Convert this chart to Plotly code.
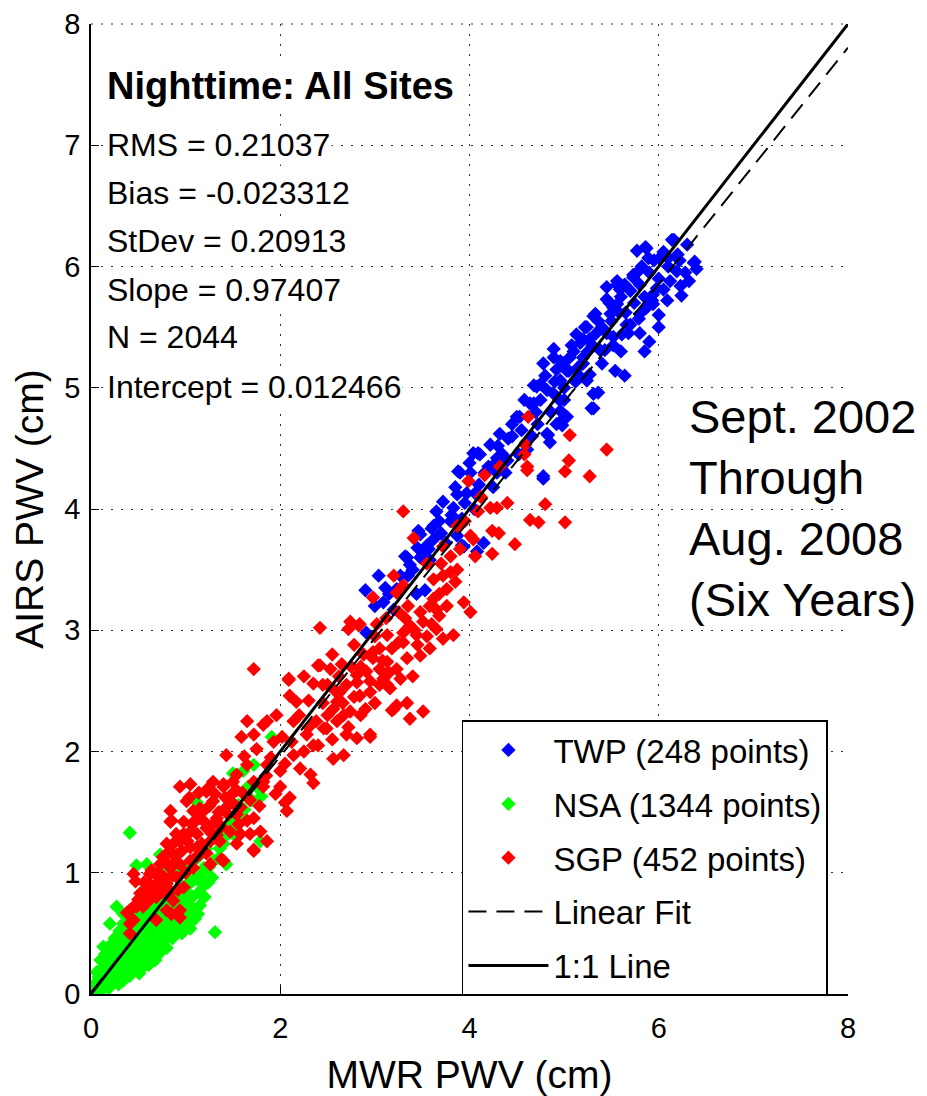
import plotly.graph_objects as go

# AIRS vs MWR precipitable water vapour, nighttime, all sites

twp_pts = [
    (5.77, 6.13), (5.86, 6.16), (5.89, 6.07), (6.14, 6.22), (6.30, 6.18), (6.38, 6.04), (6.40, 5.98),
    (6.19, 5.96), (6.23, 5.84), (6.24, 5.76), (6.09, 5.72), (6.05, 5.81), (5.77, 5.95), (5.73, 5.91),
    (5.56, 5.85), (5.59, 5.81), (5.45, 5.73), (5.56, 5.69), (5.33, 5.61), (5.36, 5.55), (5.49, 5.61),
    (5.22, 5.50), (5.13, 5.44), (5.17, 5.37), (5.27, 5.40), (4.89, 5.32), (4.89, 5.25), (4.99, 5.20),
    (5.06, 5.25), (5.15, 5.17), (4.75, 5.03), (4.68, 5.02), (4.96, 5.06), (5.05, 5.14), (5.54, 5.14),
    (5.64, 5.10), (5.36, 4.96), (5.24, 5.06), (5.79, 5.57), (5.70, 5.52), (5.87, 5.66), (5.93, 5.72),
    (5.61, 5.44), (5.43, 5.31), (5.94, 5.77), (6.01, 6.07), (6.10, 6.07),
    (4.71, 5.01), (4.89, 4.95), (5.29, 4.83), (4.96, 4.72), (4.53, 4.76), (4.64, 4.87), (4.82, 4.62),
    (4.85, 4.55), (4.61, 4.49), (4.32, 4.62), (4.41, 4.58), (4.22, 4.53), (4.04, 4.46), (4.11, 4.45),
    (4.29, 4.42), (3.88, 4.31), (4.01, 4.30), (4.29, 4.30), (3.87, 4.12), (3.97, 4.13), (3.72, 4.06),
    (3.65, 3.98), (3.81, 3.95), (4.78, 4.25), (3.60, 3.84), (3.48, 3.79), (3.62, 3.75), (3.87, 3.78),
    (3.32, 3.61), (3.48, 3.60), (3.37, 3.54), (3.27, 3.45), (3.94, 3.69), (4.08, 3.65), (4.15, 3.72),
    (4.25, 4.36), (3.46, 3.82), (3.57, 3.67), (3.34, 3.60), (3.50, 3.61), (3.04, 3.45), (2.90, 3.33),
    (3.11, 3.35), (3.23, 3.34), (3.44, 3.30), (3.53, 3.33), (3.09, 3.23), (3.20, 3.17), (2.91, 2.98),
    (3.92, 3.70), (5.31, 4.83), (4.98, 4.73), (4.98, 4.69), (4.83, 4.61), (4.50, 4.76), (4.68, 4.87),
    (4.09, 4.46), (3.90, 4.30), (4.06, 4.13), (3.83, 4.01), (3.62, 3.86), (4.82, 4.98), (4.78, 5.20),
    (4.96, 5.22), (5.03, 5.14), (5.17, 5.09), (5.31, 4.95), (5.24, 5.50), (5.31, 5.59), (5.52, 5.66),
    (5.45, 5.83), (5.56, 5.88), (5.73, 5.93), (5.87, 6.15), (6.16, 6.22), (6.37, 6.03), (5.94, 5.69),
    (5.80, 5.61), (5.66, 5.52), (5.52, 5.42), (5.38, 5.31), (5.27, 5.11), (4.96, 4.81), (4.92, 4.70),
    (5.03, 4.76), (4.78, 4.27), (3.70, 3.80), (3.80, 3.90), (3.95, 4.05), (4.10, 4.20), (4.20, 4.35),
    (4.35, 4.45), (4.45, 4.60), (4.55, 4.65), (4.70, 4.80), (4.75, 4.90), (4.90, 5.05), (5.00, 5.00),
    (5.10, 5.30), (5.20, 5.25), (5.30, 5.35), (5.40, 5.50), (5.50, 5.55), (5.60, 5.75), (5.70, 5.80),
    (5.80, 5.85), (5.90, 5.95), (6.00, 5.90), (6.10, 6.00), (6.20, 6.10), (5.65, 5.62), (5.45, 5.45),
    (5.20, 5.20), (4.95, 4.90), (4.60, 4.55), (4.40, 4.40), (3.55, 3.70), (3.40, 3.50), (3.15, 3.30),
    (3.00, 3.20), (5.60, 5.30), (5.80, 5.45), (6.00, 5.60), (5.90, 5.38),
    (3.35, 3.45), (3.45, 3.68), (3.58, 3.58), (3.68, 3.90), (3.75, 3.72), (3.85, 4.18), (3.92, 3.92),
    (4.00, 4.38), (4.05, 4.00), (4.16, 4.30), (4.25, 4.18), (4.30, 4.52), (4.38, 4.30), (4.45, 4.70),
    (4.52, 4.45), (4.58, 4.90), (4.66, 4.60), (4.72, 4.70), (4.80, 5.10), (4.86, 4.80), (4.92, 5.15),
    (5.00, 4.90), (5.08, 5.35), (5.12, 5.05), (5.20, 5.40), (5.25, 5.30), (5.34, 5.45), (5.40, 5.20),
    (5.48, 5.70), (5.52, 5.35), (5.58, 5.62), (5.64, 5.85), (5.68, 5.45), (5.74, 5.70), (5.82, 6.00),
    (5.85, 5.75), (5.95, 6.05), (5.98, 5.82), (6.05, 6.12), (6.12, 5.88), (6.22, 6.05), (6.28, 5.95),
    (6.32, 5.88), (6.00, 5.50), (5.85, 5.30),
]

nsa_pts = [
    (0.03, 0.05), (0.05, 0.02), (0.06, 0.10), (0.08, 0.05), (0.08, 0.14), (0.10, 0.08), (0.10, 0.20),
    (0.12, 0.04), (0.12, 0.13), (0.13, 0.26), (0.14, 0.09), (0.15, 0.18), (0.15, 0.33), (0.16, 0.06),
    (0.17, 0.22), (0.18, 0.12), (0.19, 0.29), (0.20, 0.16), (0.20, 0.40), (0.21, 0.08), (0.22, 0.24),
    (0.23, 0.34), (0.24, 0.14), (0.25, 0.20), (0.25, 0.46), (0.26, 0.29), (0.27, 0.10), (0.28, 0.38),
    (0.29, 0.18), (0.30, 0.26), (0.30, 0.52), (0.31, 0.44), (0.32, 0.14), (0.33, 0.32), (0.34, 0.22),
    (0.34, 0.58), (0.35, 0.40), (0.36, 0.28), (0.37, 0.16), (0.38, 0.48), (0.39, 0.35), (0.40, 0.24),
    (0.40, 0.62), (0.41, 0.42), (0.42, 0.30), (0.43, 0.18), (0.44, 0.52), (0.45, 0.38), (0.46, 0.26),
    (0.47, 0.70), (0.48, 0.46), (0.49, 0.34), (0.50, 0.22), (0.51, 0.58), (0.52, 0.42), (0.53, 0.30),
    (0.54, 0.64), (0.55, 0.50), (0.55, 0.22), (0.56, 0.36), (0.57, 0.76), (0.58, 0.44), (0.59, 0.28),
    (0.60, 0.56), (0.61, 0.40), (0.62, 0.68), (0.63, 0.33), (0.64, 0.50), (0.65, 0.82), (0.66, 0.44),
    (0.67, 0.60), (0.68, 0.36), (0.69, 0.72), (0.70, 0.52), (0.71, 0.42), (0.72, 0.64), (0.73, 0.88),
    (0.74, 0.48), (0.75, 0.58), (0.76, 0.40), (0.77, 0.76), (0.78, 0.54), (0.79, 0.66), (0.80, 0.46),
    (0.82, 0.94), (0.82, 0.60), (0.84, 0.50), (0.85, 0.72), (0.86, 0.56), (0.88, 0.82), (0.90, 0.64),
    (0.91, 0.52), (0.92, 1.00), (0.94, 0.70), (0.95, 0.58), (0.97, 0.88), (0.98, 0.76), (1.00, 0.66),
    (1.02, 1.06), (1.04, 0.82), (1.06, 0.72), (1.08, 0.94), (1.10, 0.62), (1.12, 1.12), (1.14, 0.84),
    (1.15, 0.73), (1.18, 1.00), (1.20, 0.90), (1.22, 1.20), (1.25, 1.05), (1.28, 0.96), (1.31, 0.51),
    (1.32, 1.28), (1.35, 1.12), (1.40, 1.24), (1.43, 1.07), (1.45, 1.36), (1.50, 1.32), (1.50, 1.82),
    (1.52, 1.34), (1.55, 1.46), (1.61, 1.84), (1.62, 1.52), (1.66, 1.71), (1.70, 1.60), (1.72, 1.89),
    (1.76, 1.70), (1.79, 1.26), (1.80, 1.63), (1.91, 2.12), (1.12, 1.58), (0.41, 1.33), (0.48, 1.06),
    (0.59, 1.07), (0.27, 0.72), (0.34, 0.66), (0.20, 0.58), (0.13, 0.39), (1.05, 0.54), (0.94, 0.52),
    (0.69, 0.33), (0.76, 0.45), (1.01, 0.55), (1.05, 0.72), (1.19, 1.04), (0.80, 1.04), (0.73, 1.15),
    (0.55, 0.85), (1.05, 0.93), (0.94, 1.02), (0.34, 0.11), (0.06, 0.18), (0.10, 0.28),
    (0.02, 0.01), (0.04, 0.08), (0.07, 0.03), (0.09, 0.11), (0.11, 0.16), (0.13, 0.07), (0.14, 0.21),
    (0.16, 0.12), (0.18, 0.26), (0.19, 0.05), (0.21, 0.19), (0.22, 0.31), (0.23, 0.11), (0.26, 0.17),
    (0.27, 0.36), (0.28, 0.24), (0.29, 0.08), (0.31, 0.20), (0.32, 0.41), (0.33, 0.28), (0.35, 0.12),
    (0.36, 0.34), (0.37, 0.52), (0.38, 0.21), (0.39, 0.44), (0.41, 0.15), (0.42, 0.37), (0.43, 0.56),
    (0.44, 0.26), (0.45, 0.47), (0.47, 0.20), (0.47, 0.40), (0.48, 0.60), (0.49, 0.29), (0.50, 0.50),
    (0.51, 0.17), (0.52, 0.36), (0.53, 0.66), (0.54, 0.26), (0.56, 0.44), (0.57, 0.56), (0.58, 0.30),
    (0.59, 0.70), (0.60, 0.38), (0.61, 0.24), (0.62, 0.50), (0.63, 0.62), (0.65, 0.30), (0.65, 0.42),
    (0.66, 0.74), (0.67, 0.52), (0.68, 0.28), (0.70, 0.62), (0.70, 0.40), (0.72, 0.50), (0.73, 0.34),
    (0.74, 0.70), (0.76, 0.56), (0.77, 0.44), (0.78, 0.64), (0.80, 0.38), (0.81, 0.74), (0.83, 0.54),
    (0.84, 0.66), (0.86, 0.46), (0.87, 0.80), (0.89, 0.58), (0.90, 0.70), (0.93, 0.62), (0.96, 0.50),
    (0.97, 0.80), (1.00, 0.72), (1.02, 0.60), (1.03, 0.90), (1.07, 0.80), (1.10, 0.95), (1.13, 0.66),
    (1.16, 0.92), (1.20, 0.80), (1.24, 0.92), (1.30, 1.10), (1.36, 1.20), (1.42, 1.30), (1.48, 1.42),
    (1.56, 1.56), (1.65, 1.62),
]

sgp_pts = [
    (2.42, 3.02), (2.72, 3.01), (2.83, 3.04), (1.72, 2.68), (2.09, 2.59), (2.10, 2.46), (2.42, 2.71),
    (2.35, 2.56), (2.60, 2.41), (2.70, 2.55), (2.81, 2.63), (2.98, 2.82), (3.05, 2.68), (3.13, 2.55),
    (3.20, 2.35), (2.81, 2.11), (2.95, 2.12), (2.56, 1.94), (2.67, 1.97), (2.70, 2.14), (2.49, 2.19),
    (2.35, 2.05), (2.14, 1.97), (2.21, 1.86), (2.32, 1.81), (2.35, 1.74), (2.10, 1.62), (2.07, 1.51),
    (1.86, 1.26), (1.72, 1.19), (1.72, 1.45), (1.54, 1.24), (1.93, 2.08), (1.96, 2.30), (1.82, 2.22),
    (1.65, 2.25), (1.59, 2.12), (1.72, 2.14), (1.43, 1.97), (1.65, 1.89), (1.54, 1.81), (1.29, 1.75),
    (1.40, 1.73), (0.94, 1.71), (1.05, 1.73), (1.22, 1.67), (0.84, 1.51), (0.84, 1.42), (1.08, 1.51),
    (1.15, 1.45), (1.22, 1.37), (1.05, 1.34), (0.94, 1.26), (0.76, 1.13), (0.73, 1.07), (0.87, 1.15),
    (0.94, 1.07), (1.05, 1.10), (1.12, 1.21), (1.26, 1.26), (0.73, 0.93), (0.66, 0.88), (0.59, 0.83),
    (0.48, 0.72), (0.41, 0.69), (0.45, 0.61), (0.80, 0.88), (0.87, 0.77), (0.94, 0.69), (0.80, 0.69),
    (0.69, 0.61), (0.98, 0.88), (0.91, 0.96), (0.84, 1.04), (0.62, 0.99), (0.52, 0.83), (1.29, 1.59),
    (1.43, 1.54), (1.33, 1.45), (1.47, 1.34), (1.58, 1.32), (1.54, 1.48), (2.00, 1.84), (1.86, 1.89),
    (1.82, 1.71), (1.72, 1.75), (1.49, 1.65), (1.15, 1.53), (1.01, 1.59), (1.33, 1.31), (0.80, 1.24),
    (1.24, 1.70), (1.40, 1.71), (0.85, 1.43), (1.19, 1.51), (1.29, 1.40), (1.10, 1.43), (0.98, 1.32),
    (0.87, 1.24), (0.91, 1.15), (1.05, 1.21), (1.15, 1.15), (1.26, 1.07), (1.08, 1.04), (1.40, 1.10),
    (0.45, 0.99), (0.47, 0.93), (0.69, 0.98), (0.62, 0.91), (0.80, 0.91), (0.55, 0.83), (0.69, 0.80),
    (0.45, 0.72), (0.38, 0.67), (0.55, 0.72), (0.41, 0.58), (0.41, 0.50), (0.85, 0.66), (0.94, 0.63),
    (1.65, 1.43), (1.68, 1.32), (1.72, 1.18), (1.79, 1.34), (1.58, 1.54), (1.47, 1.59), (1.54, 1.68),
    (1.82, 1.75), (2.00, 1.71), (2.05, 1.58), (1.36, 1.26), (1.38, 1.11),
    (0.50, 0.78), (0.56, 0.92), (0.60, 0.76), (0.64, 1.02), (0.66, 0.82), (0.70, 0.90), (0.72, 1.00),
    (0.75, 0.84), (0.78, 1.10), (0.78, 0.96), (0.82, 0.82), (0.83, 1.18), (0.86, 0.98), (0.89, 1.08),
    (0.90, 1.32), (0.92, 0.86), (0.96, 1.18), (0.98, 1.42), (1.00, 1.00), (1.02, 1.26), (1.04, 1.62),
    (1.07, 1.40), (1.10, 1.12), (1.12, 1.32), (1.14, 1.66), (1.17, 1.24), (1.20, 1.42), (1.22, 1.16),
    (1.25, 1.55), (1.28, 1.32), (1.31, 1.65), (1.35, 1.50), (1.38, 1.38), (1.42, 1.62), (1.45, 1.48),
    (1.50, 1.75), (1.52, 1.56), (1.56, 1.40), (1.60, 1.66), (1.62, 1.96), (1.68, 1.60), (1.75, 2.02),
    (1.78, 1.55), (1.85, 1.80), (1.90, 1.95), (1.95, 1.65), (2.02, 2.12), (2.05, 1.90), (2.12, 2.08),
    (2.20, 2.30), (2.25, 2.00), (2.30, 2.42), (2.38, 2.25), (2.45, 2.40), (2.50, 2.55), (2.55, 2.10),
    (2.62, 2.62), (2.66, 2.40), (2.75, 2.70), (2.78, 2.45), (2.88, 2.80), (2.90, 2.35), (3.00, 2.95),
    (3.05, 2.55), (3.12, 3.10), (3.18, 2.85), (3.25, 3.15), (3.35, 3.20), (3.42, 3.00), (3.55, 3.55),
    (3.60, 3.05), (3.68, 3.30), (3.85, 3.40), (3.95, 3.90), (4.12, 4.10), (4.40, 4.05),
    (4.62, 4.76), (5.06, 4.61), (5.45, 4.49), (5.05, 4.40), (5.01, 4.31), (5.27, 4.27), (4.61, 4.32),
    (4.59, 4.53), (4.58, 4.45), (4.32, 4.35), (4.16, 4.28), (3.99, 4.23), (4.80, 4.04), (4.64, 3.91),
    (4.73, 3.89), (5.01, 3.89), (4.22, 4.01), (4.29, 4.01), (4.09, 3.98), (4.24, 3.82), (4.31, 3.80),
    (4.48, 3.71), (4.04, 3.75), (3.90, 3.67), (4.24, 3.63), (4.06, 3.61), (3.30, 3.98), (4.61, 4.35),
    (3.41, 3.76), (3.87, 3.86), (4.01, 3.78), (3.72, 3.69), (3.80, 3.61), (3.87, 3.50), (3.72, 3.45),
    (3.62, 3.42), (3.76, 3.34), (3.62, 3.26), (3.65, 3.17), (3.76, 3.20), (3.94, 3.23), (4.01, 3.15),
    (3.20, 3.45), (3.30, 3.37), (3.23, 3.31), (2.98, 3.27), (3.48, 3.15), (3.51, 3.07), (3.37, 3.04),
    (3.30, 2.98), (3.44, 2.96), (3.65, 3.01), (3.72, 2.93), (3.83, 2.96), (3.58, 2.85), (3.48, 2.79),
    (3.34, 2.77), (3.30, 2.90), (3.13, 2.96), (3.05, 2.85), (2.98, 2.77), (3.13, 2.74), (3.23, 2.68),
    (2.91, 2.66), (2.81, 2.57), (3.09, 2.60), (3.27, 2.60), (2.84, 2.46), (2.95, 2.49), (3.16, 2.52),
    (3.23, 2.38), (3.34, 2.40), (3.51, 2.33), (3.37, 2.27), (3.18, 2.34), (2.74, 2.33), (2.74, 3.07),
    (2.84, 3.05), (2.40, 2.71), (2.53, 2.68), (2.09, 2.60), (2.63, 2.49), (2.56, 2.35), (2.67, 2.30),
    (2.60, 2.25), (2.46, 2.19), (2.28, 2.14), (2.17, 2.41), (2.14, 2.25), (1.86, 2.25), (2.95, 2.14),
    (2.45, 2.55), (2.55, 2.80), (2.65, 2.72), (2.78, 2.88), (2.85, 2.70), (2.95, 2.58), (3.02, 3.05),
    (3.08, 2.75), (3.15, 2.65), (3.25, 2.90), (3.32, 3.10), (3.40, 2.62), (3.45, 2.88), (3.55, 2.95),
    (3.58, 3.20), (3.68, 3.12), (3.70, 3.55), (3.80, 3.48), (2.25, 2.62), (2.30, 2.20), (2.40, 2.05),
    (2.50, 2.30), (2.58, 2.50), (2.72, 2.20), (2.85, 2.30), (3.00, 2.40),
]

# fit statistics printed on the chart
rms = 0.21037
bias = -0.023312
stdev = 0.20913
slope = 0.97407
n_points = 2044
intercept = 0.012466

line_x = [0, 8]
fit_y = [intercept + slope * v for v in line_x]
one_to_one_y = [0, 8]

FONT = "Liberation Sans, Arial, Helvetica, sans-serif"


def scatter(pts, name, color):
    return go.Scatter(
        x=[p[0] for p in pts], y=[p[1] for p in pts],
        mode="markers", name=name, legendgroup=name,
        marker=dict(symbol="diamond", size=11, color=color, line=dict(width=0)),
    )


fig = go.Figure()
fig.add_trace(scatter(twp_pts, "TWP (248 points)", "#0000ff"))
fig.add_trace(scatter(nsa_pts, "NSA (1344 points)", "#00ff00"))
fig.add_trace(scatter(sgp_pts, "SGP (452 points)", "#ff0000"))
fig.add_trace(go.Scatter(x=line_x, y=fit_y, mode="lines", name="Linear Fit", legendgroup="fit",
                         line=dict(color="black", width=2, dash="18px,10px")))
fig.add_trace(go.Scatter(x=line_x, y=one_to_one_y, mode="lines", name="1:1 Line", legendgroup="one",
                         line=dict(color="black", width=3)))

stats = [
    (f"RMS = {rms}", 7.0),
    (f"Bias = {bias}", 6.61),
    (f"StDev = {stdev}", 6.21),
    (f"Slope = {slope}", 5.81),
    (f"N = {n_points}", 5.42),
    (f"Intercept = {intercept}", 5.01),
]
fig.add_annotation(x=0.15, y=7.49, xref="x", yref="y", text="<b>Nighttime: All Sites</b>",
                   showarrow=False, xanchor="left", yanchor="middle", bgcolor="white",
                   font=dict(family=FONT, size=38, color="black"))
for txt, yy in stats:
    fig.add_annotation(x=0.15, y=yy, xref="x", yref="y", text=txt, showarrow=False,
                       xanchor="left", yanchor="middle", bgcolor="white",
                       font=dict(family=FONT, size=32, color="black"))

fig.add_annotation(x=6.30, y=4.01, xref="x", yref="y",
                   text="Sept. 2002<br>Through<br>Aug. 2008<br>(Six Years)",
                   showarrow=False, xanchor="left", yanchor="middle", align="left",
                   font=dict(family=FONT, size=47, color="black"))

# dotted top frame (plotly drops the grid line that sits on the plot edge)
fig.add_shape(type="line", xref="paper", yref="paper", x0=0, x1=1, y0=1, y1=1,
              line=dict(color="#333333", width=1, dash="2px,8px"), layer="above")

axis_style = dict(
    range=[0, 8], showline=True, linecolor="black", linewidth=1.5, mirror=False,
    ticks="inside", ticklen=8, tickcolor="black", tickwidth=1, automargin=False,
    showgrid=True, gridcolor="#333333", gridwidth=1, griddash="2px,8px",
    zeroline=False, ticklabeloverflow="allow",
    tickfont=dict(family=FONT, size=29, color="black"),
)

# the page body adds an 8 px offset, so margins are shifted to compensate
fig.update_layout(
    width=927, height=1096,
    margin=dict(l=83, r=87, t=16, b=110),
    plot_bgcolor="white", paper_bgcolor="white",
    xaxis=dict(axis_style, tickvals=[0, 2, 4, 6, 8], ticklabelstandoff=7,
               title=dict(text="MWR PWV (cm)", font=dict(family=FONT, size=39, color="black"), standoff=18)),
    yaxis=dict(axis_style, tickvals=[0, 1, 2, 3, 4, 5, 6, 7, 8], ticklabelstandoff=3,
               title=dict(text="AIRS PWV (cm)", font=dict(family=FONT, size=39, color="black"), standoff=13)),
    legend=dict(x=0.49, y=0.282, xanchor="left", yanchor="top",
                bgcolor="white", bordercolor="black", borderwidth=1.5, itemwidth=80,
                font=dict(family=FONT, size=33, color="black"), tracegroupgap=8),
    showlegend=True,
)

fig.write_html("out.html")
